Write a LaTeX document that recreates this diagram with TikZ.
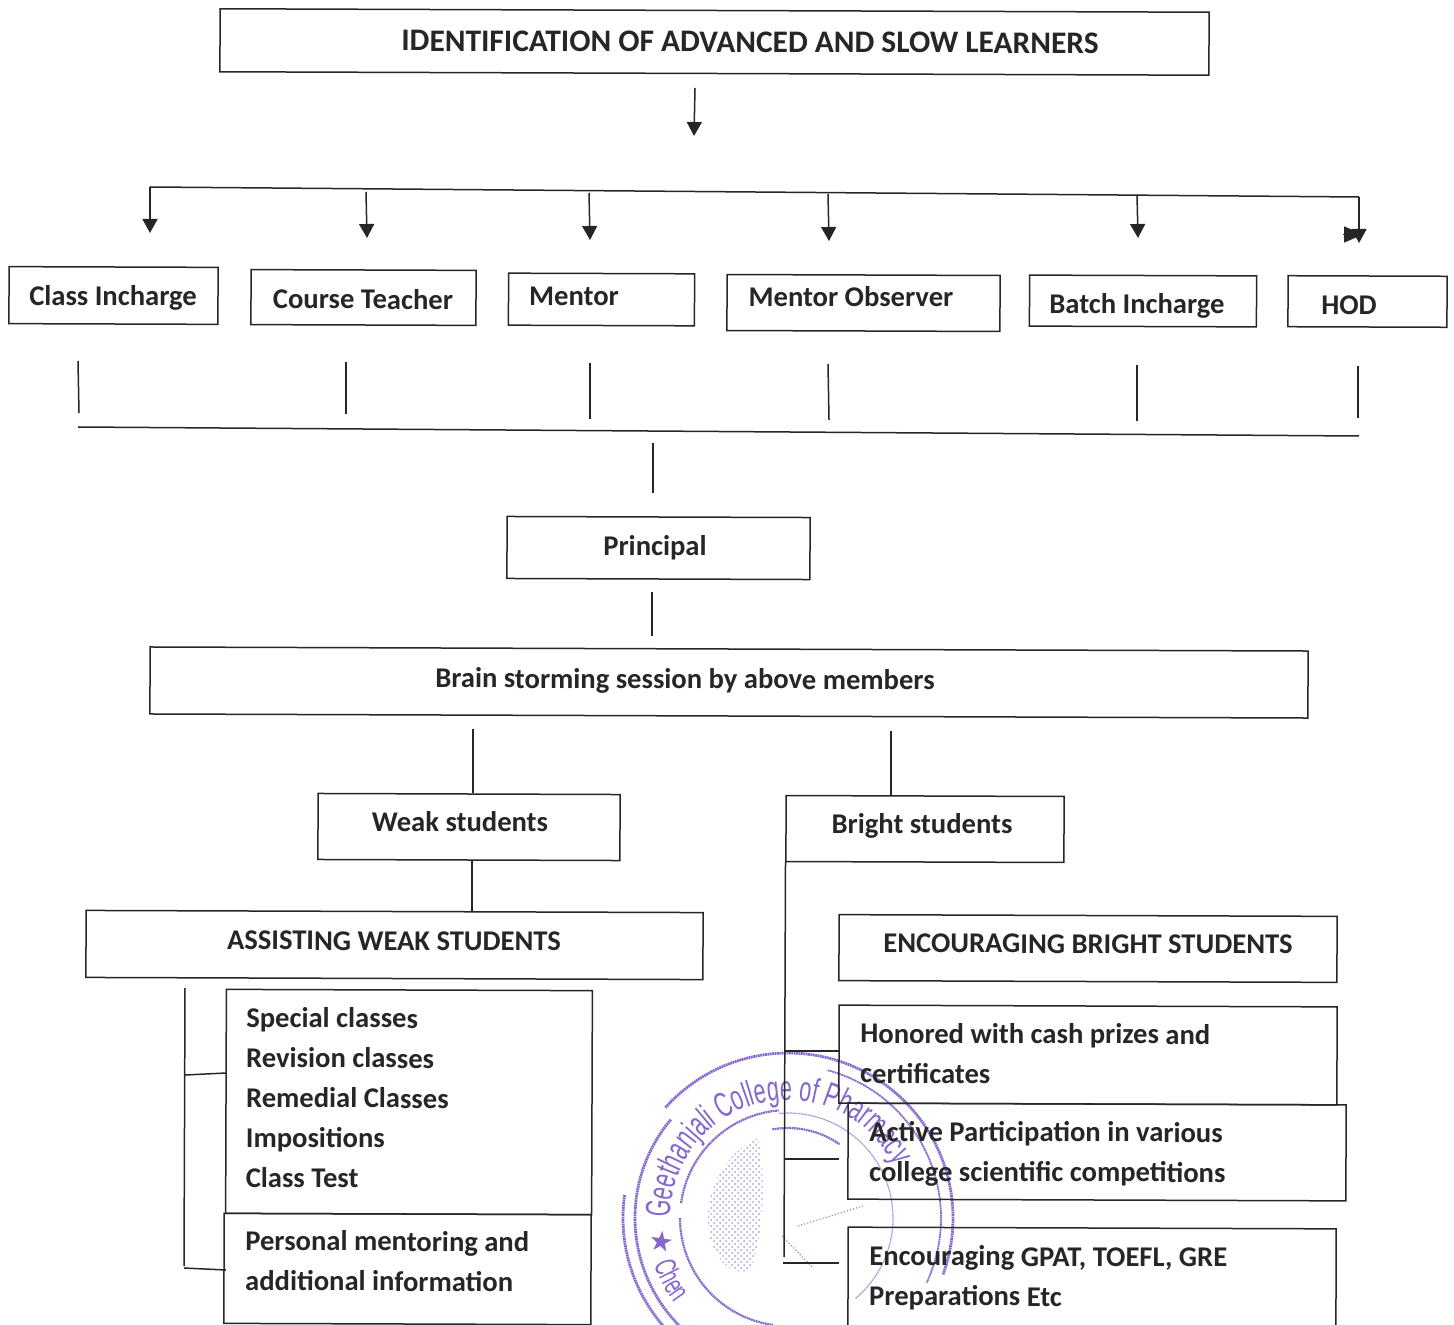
\documentclass[tikz,border=0pt]{standalone}
\usepackage{fontspec}
\setmainfont{Carlito}
\newfontfamily\stampfont[FakeStretch=0.62]{Liberation Sans}
\newfontfamily\starfont{DejaVu Sans}
\usetikzlibrary{arrows.meta,decorations.text,patterns}
\definecolor{ink}{HTML}{262626}
\definecolor{stampink}{HTML}{8468CC}
\begin{document}
\begin{tikzpicture}[x=0.5pt, y=-0.5pt,
        boxnode/.style 2 args={draw=ink, line width=0.75pt, rectangle, inner sep=0pt, outer sep=0pt, rotate=-0.2, minimum width=#1*0.5pt, minimum height=#2*0.5pt},
        label_node/.style={font=\fontsize{14.3}{20}\selectfont\bfseries, text=ink, inner sep=0pt, rotate=-0.2},
        list_node/.style={label_node, align=left},
        link/.style={draw=ink, line width=0.75pt},
        arrow_link/.style={link, -{Triangle[length=7pt, width=7.5pt]}},
        side_link/.style={link, -{Triangle[length=9.5pt, width=8pt]}},
        ring/.style={draw=stampink, line width=#1, dash pattern=on 0.9pt off 0.3pt}
    ]
    \path[use as bounding box, clip] (0,0) rectangle (1454,1325);

    % Timbro
    \begin{scope}[shift={(788,1218)}, yscale=-1]
        \draw[ring=1.4pt] (138:165) arc (138:-20:165);
        \draw[ring=1.4pt] (172:165) arc (172:260:165);
        \draw[ring=1.4pt] (140:153) arc (140:262:153);
        \draw[ring=0.9pt] (75:153) arc (75:-25:153);
        \draw[ring=1.1pt] (172:108) arc (172:95:108);
        \draw[ring=0.6pt, stampink!70] (95:105) arc (95:-50:105);
        \draw[ring=1.1pt] (180:108) arc (180:262:108);
        \draw[ring=1.1pt] (100:90) arc (100:55:90);
        \path[pattern=crosshatch dots, pattern color=stampink!65] (-30,80) .. controls (-65,65) and (-82,25) .. (-80,-5) .. controls (-78,-35) and (-60,-60) .. (-38,-52) .. controls (-24,-20) and (-22,40) .. (-30,80) -- cycle;
        \draw[stampink!80, line width=0.6pt, densely dotted] (10,-8) -- (75,12);
        \draw[stampink!80, line width=0.6pt, densely dotted] (-6,-18) -- (25,-50);
        \path[decorate, decoration={text along path, text align={left}, text={|\stampfont\fontsize{17.5}{17.5}\selectfont\color{stampink}|Geethanjali College of Pharmacy}}] (180:118) arc (180:10:118);
        \path[decorate, decoration={text along path, text align={left}, text={|\stampfont\fontsize{15}{15}\selectfont\color{stampink}|Chen}}] (199:142) arc (199:235:142);
        \node[font=\starfont\fontsize{14}{14}\selectfont, text=stampink, inner sep=0pt, rotate=-80] (stampstar) at (191:128) {★};
    \end{scope}

    % Titolo
    \node[boxnode={989}{63}] (identify) at (714.5,42) {};
    \node[label_node, font=\fontsize{15.7}{20}\selectfont\bfseries] (identifytext) at (750,42) {IDENTIFICATION OF ADVANCED AND SLOW LEARNERS};

    % Membri
    \node[boxnode={209}{57}] (classbox) at (113.5,295.5) {};
    \node[label_node] (classtext) at (113,298) {Class Incharge};
    \node[boxnode={225}{55}] (coursebox) at (363.5,297.5) {};
    \node[label_node] (coursetext) at (363,299) {Course Teacher};
    \node[boxnode={186}{52}] (mentorbox) at (601.5,299.5) {};
    \node[label_node] (mentortext) at (574,296) {Mentor};
    \node[boxnode={273}{56}] (observerbox) at (863.5,303) {};
    \node[label_node] (observertext) at (851,296.5) {Mentor Observer};
    \node[boxnode={227}{51}] (batchbox) at (1143,301) {};
    \node[label_node] (batchtext) at (1137,306) {Batch Incharge};
    \node[boxnode={159}{51}] (hodbox) at (1367.5,301.5) {};
    \node[label_node] (hodtext) at (1349,305) {HOD};

    % Freccia sotto il titolo
    \coordinate (arrowstart) at (695,88);
    \coordinate (arrowend) at (694,136);
    \draw[arrow_link] (arrowstart) -- (arrowend);

    % Linea superiore con le frecce
    \coordinate (busa) at (150,187);
    \coordinate (busb) at (366,192);
    \coordinate (busc) at (589,193);
    \coordinate (busd) at (828,194);
    \coordinate (buse) at (1137,195);
    \coordinate (busf) at (1359,197);
    \coordinate (tipa) at (150,233);
    \coordinate (tipb) at (367,238);
    \coordinate (tipc) at (590,240);
    \coordinate (tipd) at (829,241);
    \coordinate (tipe) at (1138,238);
    \coordinate (tipf) at (1359,243);
    \coordinate (sidestart) at (1343,234.5);
    \coordinate (sideend) at (1363,234.5);
    \draw[link] (busa) -- (busf);
    \draw[arrow_link] (busa) -- (tipa);
    \draw[arrow_link] (busb) -- (tipb);
    \draw[arrow_link] (busc) -- (tipc);
    \draw[arrow_link] (busd) -- (tipd);
    \draw[arrow_link] (buse) -- (tipe);
    \draw[arrow_link] (busf) -- (tipf);
    \draw[side_link] (sidestart) -- (sideend);

    % Linee verso il basso
    \coordinate (dropa) at (78,361);
    \coordinate (dropb) at (346,362);
    \coordinate (dropc) at (590,363);
    \coordinate (dropd) at (828,364);
    \coordinate (drope) at (1137,365);
    \coordinate (dropf) at (1358,366);
    \coordinate (enda) at (79,413);
    \coordinate (endb) at (346,414);
    \coordinate (endc) at (590,419);
    \coordinate (endd) at (829,420);
    \coordinate (ende) at (1137,421);
    \coordinate (endf) at (1358,418);
    \draw[link] (dropa) -- (enda);
    \draw[link] (dropb) -- (endb);
    \draw[link] (dropc) -- (endc);
    \draw[link] (dropd) -- (endd);
    \draw[link] (drope) -- (ende);
    \draw[link] (dropf) -- (endf);
    \coordinate (joinleft) at (78,427);
    \coordinate (joinright) at (1359,436);
    \draw[link] (joinleft) -- (joinright);

    % Principal e riunione
    \node[boxnode={303}{62}] (principalbox) at (658.5,548) {};
    \node[label_node] (principaltext) at (655,548) {Principal};
    \node[boxnode={1158}{67}] (brainbox) at (729,682.5) {};
    \node[label_node] (braintext) at (685,681) {Brain storming session by above members};
    \coordinate (prina) at (653,443);
    \coordinate (prinb) at (653,493);
    \coordinate (princ) at (652,592);
    \coordinate (prind) at (652,636);
    \draw[link] (prina) -- (prinb);
    \draw[link] (princ) -- (prind);

    % Studenti
    \node[boxnode={302}{66}] (weakbox) at (469,827) {};
    \node[label_node] (weaktext) at (460,821.5) {Weak students};
    \node[boxnode={278}{66}] (brightbox) at (925,829) {};
    \node[label_node] (brighttext) at (922,826) {Bright students};
    \node[boxnode={617}{67}] (assistbox) at (394.5,945) {};
    \node[label_node] (assisttext) at (394,941) {ASSISTING WEAK STUDENTS};
    \node[boxnode={498}{66}] (encouragebox) at (1088,948.5) {};
    \node[label_node] (encouragetext) at (1088,944) {ENCOURAGING BRIGHT STUDENTS};
    \coordinate (weaktop) at (473,729);
    \coordinate (weakend) at (473,793);
    \coordinate (brighttop) at (891,731);
    \coordinate (brightend) at (891,795);
    \coordinate (assisttop) at (472,860);
    \coordinate (assistend) at (472,911);
    \draw[link] (weaktop) -- (weakend);
    \draw[link] (brighttop) -- (brightend);
    \draw[link] (assisttop) -- (assistend);

    % Riquadri a sinistra
    \node[boxnode={366}{224}] (classesbox) at (409,1102) {};
    \node[list_node, anchor=north west] (classestext) at (246,1007) {Special classes\\Revision classes\\Remedial Classes\\Impositions\\Class Test};
    \node[boxnode={367}{110}] (personalbox) at (407.5,1269) {};
    \node[list_node, anchor=north west] (personaltext) at (245,1230) {Personal mentoring and\\additional information};
    \coordinate (lefttop) at (185,988);
    \coordinate (leftbottom) at (184,1266);
    \coordinate (leftbranch) at (185,1075);
    \coordinate (leftbranchend) at (226,1073);
    \coordinate (leftlower) at (184,1268);
    \coordinate (leftlowerend) at (226,1270);
    \draw[link] (lefttop) -- (leftbottom);
    \draw[link] (leftbranch) -- (leftbranchend);
    \draw[link] (leftlower) -- (leftlowerend);

    % Riquadri a destra
    \node[boxnode={498}{98}] (honoredbox) at (1088,1055) {};
    \node[list_node, anchor=north west] (honoredtext) at (860,1022.5) {Honored with cash prizes and\\certificates};
    \node[boxnode={498}{96}] (activebox) at (1097,1152) {};
    \node[list_node, anchor=north west] (activetext) at (869,1120.5) {Active Participation in various\\college scientific competitions};
    \node[boxnode={488}{130}] (gpatbox) at (1092,1293) {};
    \node[list_node, anchor=north west] (gpattext) at (869,1245) {Encouraging GPAT, TOEFL, GRE\\Preparations Etc};
    \coordinate (righttop) at (785.5,862);
    \coordinate (rightbottom) at (784,1257);
    \coordinate (brancha) at (785,1051);
    \coordinate (branchaend) at (839,1051);
    \coordinate (branchb) at (785,1159);
    \coordinate (branchbend) at (839,1159);
    \coordinate (branchc) at (783,1263);
    \coordinate (branchcend) at (839,1263);
    \draw[link] (righttop) -- (rightbottom);
    \draw[link] (brancha) -- (branchaend);
    \draw[link] (branchb) -- (branchbend);
    \draw[link] (branchc) -- (branchcend);
\end{tikzpicture}
\end{document}
